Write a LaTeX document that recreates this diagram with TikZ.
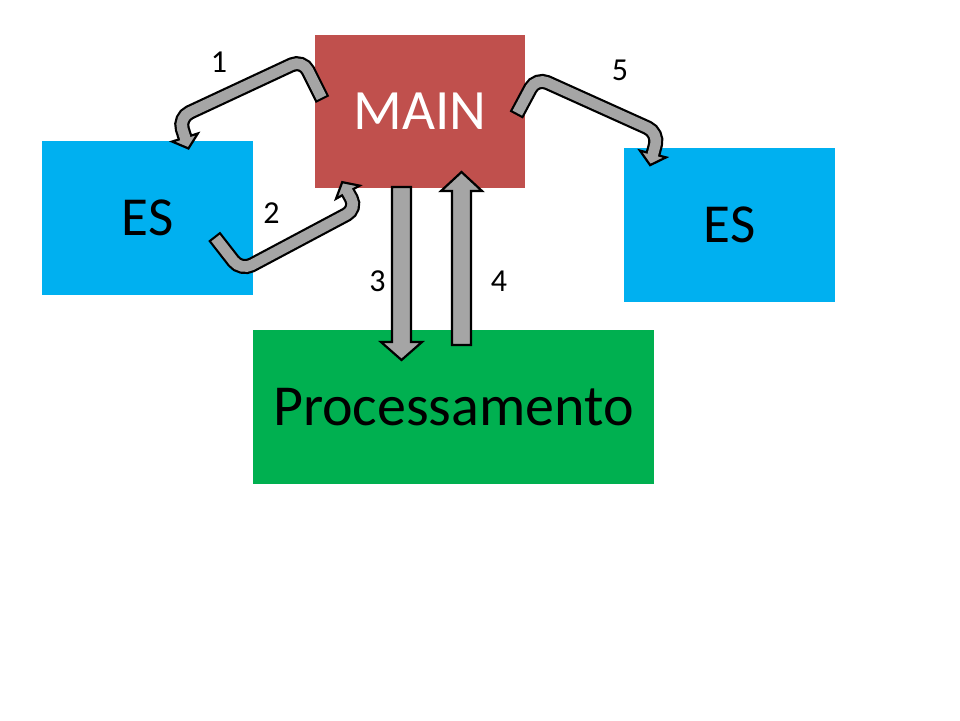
\documentclass[tikz,border=0pt]{standalone}
\usepackage{fontspec}
\setmainfont{Carlito}
\usetikzlibrary{calc}
\definecolor{mainred}{HTML}{C0504D}
\definecolor{escyan}{HTML}{00B0F0}
\definecolor{procgreen}{HTML}{00B050}
\definecolor{arrowgray}{HTML}{A5A5A5}
\tikzset{
  box/.style={fill=#1, draw=none, inner sep=0pt, outer sep=0pt, anchor=center},
  num/.style={inner sep=0pt, outer sep=0pt, font=\fontsize{32}{34}\selectfont},
  stemout/.style={draw=black, line width=15pt, rounded corners=12pt, line cap=butt},
  stemin/.style={draw=arrowgray, line width=10.6pt, rounded corners=12pt, line cap=butt, shorten <=2.2pt, shorten >=-2.8pt},
  headstyle/.style={fill=arrowgray, draw=black, line width=2.2pt, line join=miter},
}
\newcommand{\curvedblockarrow}[4]{%
  \draw[stemout] (#1) -- (#2) -- (#3) -- (#4);
  \draw[headstyle] ($(#4)!13.5pt!90:(#3)$) -- ($(#4)!-11.5pt!(#3)$) -- ($(#4)!13.5pt!-90:(#3)$) -- cycle;
  \draw[stemin] (#1) -- (#2) -- (#3) -- (#4);
}
\begin{document}
\begin{tikzpicture}[x=1pt,y=-1pt]
\useasboundingbox[fill=white] (0,0) rectangle (960,720);

% boxes
\node[box=mainred, minimum width=210pt, minimum height=153pt, text=white,
      font=\fontsize{57}{60}\selectfont] (main) at (420,111.5) {MAIN};
\node[box=escyan, minimum width=211pt, minimum height=154pt,
      font=\fontsize{55}{58}\selectfont] (esl) at (147.5,218) {ES};
\node[box=escyan, minimum width=211pt, minimum height=154pt,
      font=\fontsize{55}{58}\selectfont] (esr) at (729.5,225) {ES};
\node[box=procgreen, minimum width=401pt, minimum height=154pt,
      font=\fontsize{58}{62}\selectfont] (proc) at (453.5,407) {Processamento};

% arrow 1 : MAIN -> left ES
\coordinate (a1t) at (322.5,99.6);
\coordinate (a1a) at (302.6,59.7);
\coordinate (a1b) at (178.7,117.5);
\coordinate (a1h) at (185,137.5);
\curvedblockarrow{a1t}{a1a}{a1b}{a1h}

% arrow 2 : left ES -> MAIN
\coordinate (a2t) at (214.2,236.3);
\coordinate (a2a) at (241,270.7);
\coordinate (a2b) at (357.1,208.9);
\coordinate (a2h) at (347.8,192.2);
\curvedblockarrow{a2t}{a2a}{a2b}{a2h}

% arrow 5 : MAIN -> right ES
\coordinate (a5t) at (516.3,115);
\coordinate (a5a) at (536.3,77.6);
\coordinate (a5b) at (658.5,132.7);
\coordinate (a5h) at (653,154);
\curvedblockarrow{a5t}{a5a}{a5b}{a5h}

% arrow 3 : MAIN -> Processamento
\draw[headstyle] (392,187) -- (411,187) -- (411,342) -- (422,342) -- (401.5,360)
  -- (381,342) -- (392,342) -- cycle;
% arrow 4 : Processamento -> MAIN
\draw[headstyle] (452,345) -- (471,345) -- (471,191) -- (482,191) -- (461.5,172)
  -- (441,191) -- (452,191) -- cycle;

% labels
\node[num] (n1) at (219,62.5) {1};
\node[num] (n2) at (271.5,213) {2};
\node[num] (n3) at (377.5,281.5) {3};
\node[num] (n4) at (499,281.5) {4};
\node[num] (n5) at (620,70) {5};
\end{tikzpicture}
\end{document}
